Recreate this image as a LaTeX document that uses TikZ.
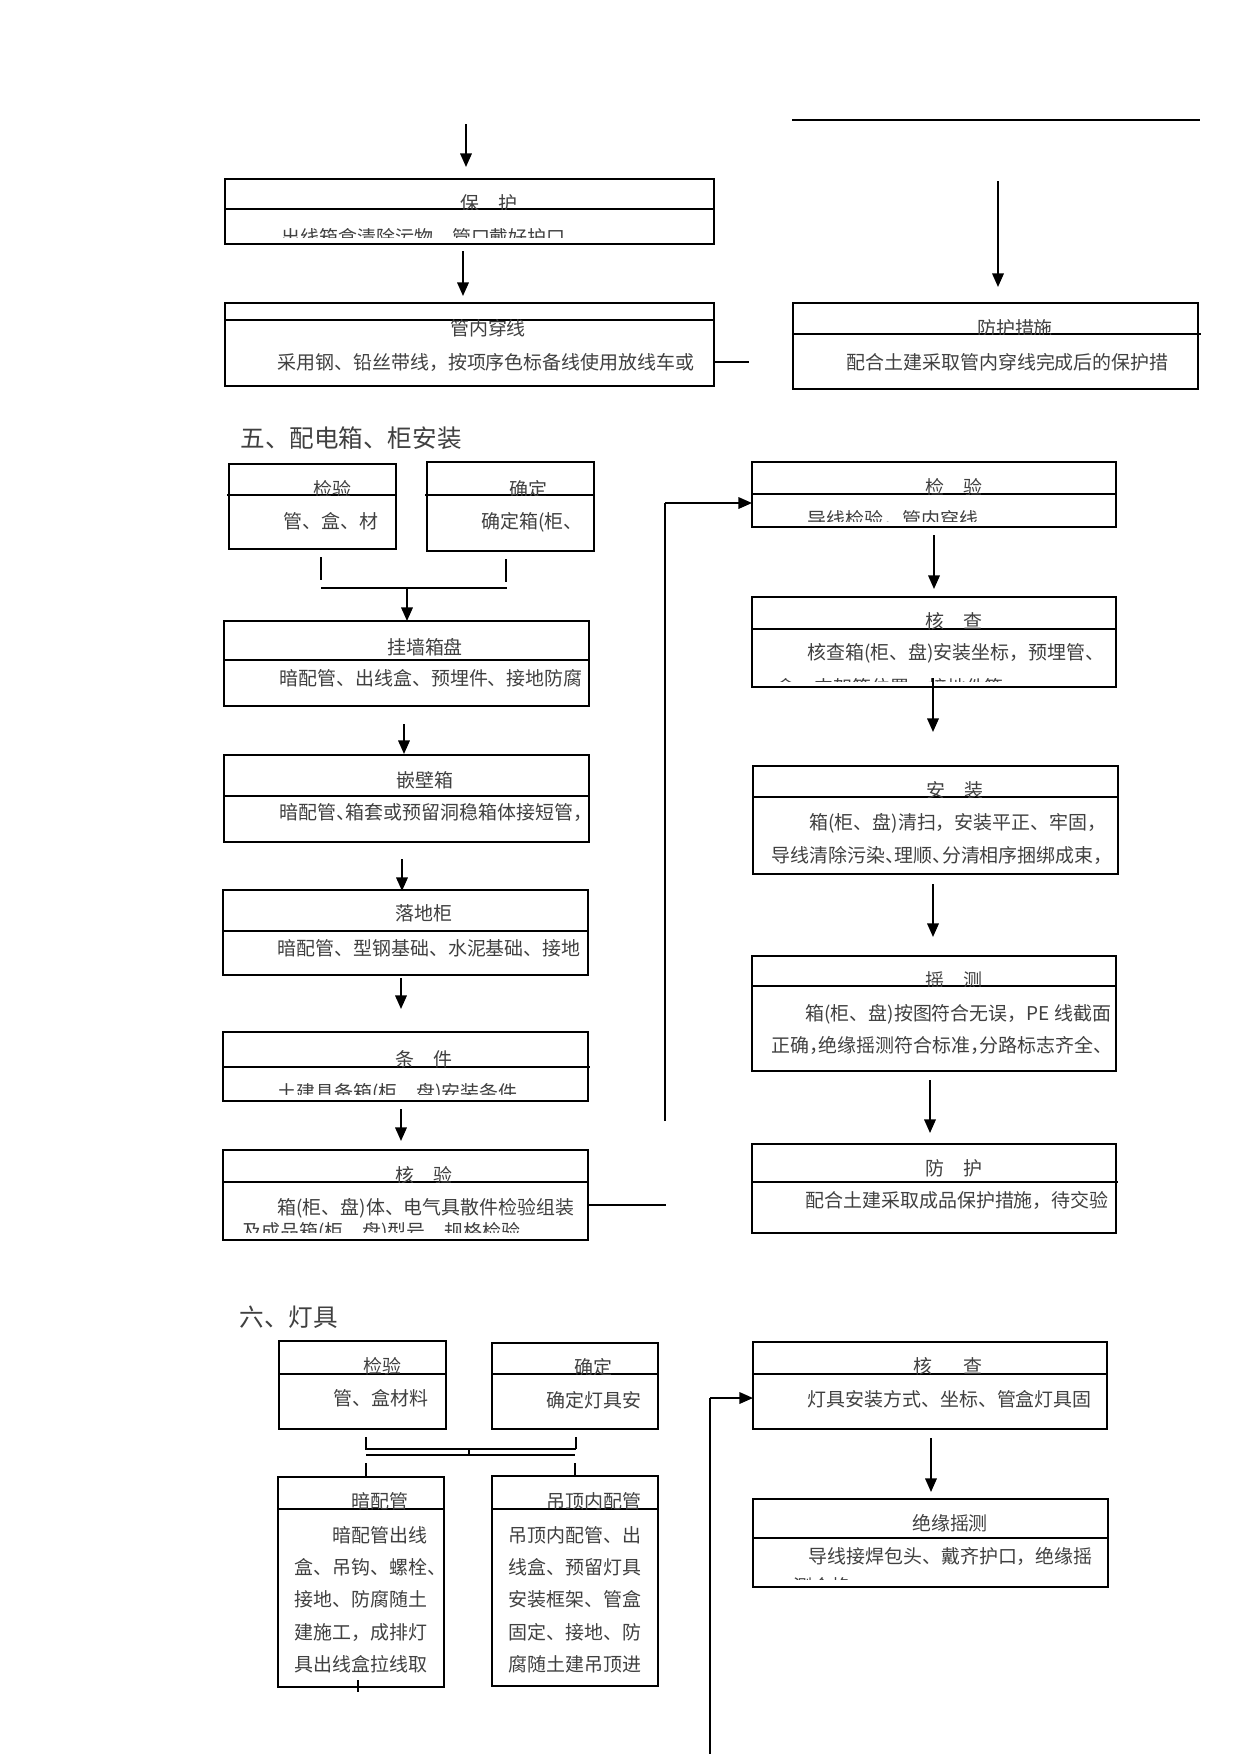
\documentclass[tikz,border=0pt]{standalone}
\usepackage{fontspec}
\newfontfamily\cjk{Noto Sans CJK SC}
\newfontfamily\cjkh{Noto Sans CJK SC}[RawFeature=+halt]
\usetikzlibrary{arrows.meta,fit}
\tikzset{
 box/.style={draw, line width=1pt, inner sep=0pt, outer sep=0pt},
 dv/.style={line width=0.6pt},
 dvt/.style={line width=1.3pt},
 arr/.style={line width=0.9pt, -{Triangle[width=5.5pt,length=6.5pt]}},
 ln/.style={line width=0.7pt},
 lnt/.style={line width=1.4pt},
 tt/.style={font=\cjk\fontsize{9.1}{11}\selectfont, text=black!75, inner sep=0pt, text height=7.9pt, text depth=1.1pt},
 tl/.style={tt, anchor=west},
 tlh/.style={tl, font=\cjkh\fontsize{9.1}{11}\selectfont},
 sec/.style={font=\cjk\fontsize{11.8}{14}\selectfont, text=black!75, inner sep=0pt, anchor=west},
}
\begin{document}
\begin{tikzpicture}[x=0.48pt,y=-0.48pt]
\useasboundingbox[fill=white] (0,0) rectangle (1241,1754);

% ===== top block =====
\coordinate (a1s) at (466,124); \coordinate (a1e) at (466,167);
\draw[arr] (a1s) -- (a1e);
\node[box, fit={(225,179)(714,244)}] (bA) {};
\draw[lnt] (bA.north west) -- (bA.north east);
\draw[dv] (225,209) -- (714,209);
\begin{scope}\clip (225,179) rectangle (714,209);
\node[tt] (tA) at (489,203) {保\quad 护};\end{scope}
\begin{scope}\clip (225,209) rectangle (714,237);
\node[tl] (sA) at (281,237) {出线箱盒清除污物，管口戴好护口};\end{scope}

\coordinate (a2s) at (463,251); \coordinate (a2e) at (463,296);
\draw[arr] (a2s) -- (a2e);
\node[box, fit={(225,303)(714,386)}] (bB) {};
\draw[dv] (225,320) -- (714,320);
\node[tt] (tB) at (488,328) {管内穿线};
\node[tl] (sB) at (277,362) {采用钢、铅丝带线，按项序色标备线使用放线车或};
\coordinate (s1) at (749,362);
\draw[lnt] (bB.east |- s1) -- (s1);

\coordinate (h1) at (792,120); \coordinate (h2) at (1200,120);
\draw[ln] (h1) -- (h2);
\coordinate (a3s) at (998,181); \coordinate (a3e) at (998,287);
\draw[arr] (a3s) -- (a3e);
\node[box, fit={(793,303)(1198,389)}] (bC) {};
\draw[lnt] (bC.south west) -- (bC.south east);
\draw[dv] (793,334) -- (1201,334);
\begin{scope}\clip (793,303) rectangle (1198,334);
\node[tt] (tC) at (1015,328) {防护措施};\end{scope}
\node[tl] (sC) at (846,362) {配合土建采取管内穿线完成后的保护措};

% ===== section 5 =====
\node[sec] (sec5) at (240,438) {五、配电箱、柜安装};

\node[box, fit={(229,464)(396,549)}] (bD) {};
\draw[dv] (227,495) -- (396,495);
\begin{scope}\clip (229,464) rectangle (396,495);
\node[tt] (tD) at (332,489) {检验};\end{scope}
\node[tl] (sD) at (283,521) {管、盒、材};

\node[box, fit={(427,462)(594,551)}] (bE) {};
\draw[dv] (425,495) -- (594,495);
\begin{scope}\clip (427,462) rectangle (594,495);
\node[tt] (tE) at (528,489) {确定};\end{scope}
\node[tl] (sE) at (481,521) {确定箱(柜、};

\coordinate (j1a) at (321,557); \coordinate (j1b) at (321,580);
\coordinate (j2a) at (506,559); \coordinate (j2b) at (506,582);
\coordinate (j3a) at (321,588); \coordinate (j3b) at (507,588);
\coordinate (j4) at (407,588);
\draw[ln] (j1a) -- (j1b);
\draw[lnt] (j2a) -- (j2b);
\draw[ln] (j3a) -- (j3b);

\node[box, fit={(224,621)(589,706)}] (bF) {};
\draw[arr] (j4) -- (j4 |- bF.north);
\draw[dv] (224,660) -- (589,660);
\node[tt] (tF) at (425,647) {挂墙箱盘};
\node[tl] (sF) at (279,678) {暗配管、出线盒、预埋件、接地防腐};

\coordinate (a5s) at (404,724); \coordinate (a5e) at (404,754);
\draw[arr] (a5s) -- (a5e);
\node[box, fit={(224,755)(589,842)}] (bG) {};
\draw[dvt] (224,796) -- (589,796);
\node[tt] (tG) at (425,780) {嵌壁箱};
\node[tlh] (sG) at (279,812) {暗配管、箱套或预留洞稳箱体接短管，};

\coordinate (a6s) at (402,859); \coordinate (a6e) at (402,891);
\draw[arr] (a6s) -- (a6e);
\node[box, fit={(223,890)(588,975)}] (bH) {};
\draw[dvt] (223,931) -- (588,931);
\node[tt] (tH) at (424,913) {落地柜};
\node[tl] (sH) at (277,948) {暗配管、型钢基础、水泥基础、接地};

\coordinate (a7s) at (401,978); \coordinate (a7e) at (401,1009);
\draw[arr] (a7s) -- (a7e);
\node[box, fit={(223,1032)(588,1101)}] (bI) {};
\draw[dv] (223,1067) -- (590,1067);
\begin{scope}\clip (223,1032) rectangle (588,1067);
\node[tt] (tI) at (424,1059) {条\quad 件};\end{scope}
\begin{scope}\clip (223,1067) rectangle (588,1094);
\node[tl] (sI) at (277,1092) {土建具备箱(柜、盘)安装条件};\end{scope}

\coordinate (a8s) at (401,1109); \coordinate (a8e) at (401,1141);
\draw[arr] (a8s) -- (a8e);
\node[box, fit={(223,1150)(588,1240)}] (bJ) {};
\draw[dv] (223,1182) -- (588,1182);
\begin{scope}\clip (223,1150) rectangle (588,1182);
\node[tt] (tJ) at (424,1175) {核\quad 验};\end{scope}
\node[tl] (sJ) at (277,1207) {箱(柜、盘)体、电气具散件检验组装};
\begin{scope}\clip (223,1182) rectangle (588,1232);
\node[tl] (sJ2) at (242,1231) {及成品箱(柜、盘)型号、规格检验};\end{scope}

\coordinate (r1) at (666,1205);
\draw[ln] (bJ.east |- r1) -- (r1);
\coordinate (r2) at (665,1121); \coordinate (r3) at (665,503);
\draw[ln] (r2) -- (r3);

\node[box, fit={(752,462)(1116,527)}] (bK) {};
\draw[arr] (r3) -- (r3 -| bK.west);
\draw[dv] (752,494) -- (1116,494);
\begin{scope}\clip (752,462) rectangle (1116,494);
\node[tt] (tK) at (954,487) {检\quad 验};\end{scope}
\begin{scope}\clip (752,494) rectangle (1116,521);
\node[tl] (sK) at (807,519) {导线检验，管内穿线};\end{scope}

\coordinate (a9s) at (934,535); \coordinate (a9e) at (934,589);
\draw[arr] (a9s) -- (a9e);
\node[box, fit={(752,597)(1116,687)}] (bL) {};
\draw[dvt] (752,629) -- (1116,629);
\begin{scope}\clip (752,597) rectangle (1116,629);
\node[tt] (tL) at (954,621) {核\quad 查};\end{scope}
\node[tl] (sL) at (807,652) {核查箱(柜、盘)安装坐标，预埋管、};
\begin{scope}\clip (752,629) rectangle (1116,681);
\node[tl] (sL2) at (776,687) {盒、支架等位置，接地件等};\end{scope}

\coordinate (a10s) at (933,678); \coordinate (a10e) at (933,732);
\draw[arr] (a10s) -- (a10e);
\node[box, fit={(753,766)(1118,874)}] (bM) {};
\draw[dv] (753,797) -- (1118,797);
\begin{scope}\clip (753,766) rectangle (1118,797);
\node[tt] (tM) at (955,790) {安\quad 装};\end{scope}
\node[tl] (sM) at (809,822) {箱(柜、盘)清扫，安装平正、牢固，};
\node[tlh] (sM2) at (771,855) {导线清除污染、理顺、分清相序捆绑成束，};

\coordinate (a11s) at (933,884); \coordinate (a11e) at (933,937);
\draw[arr] (a11s) -- (a11e);
\node[box, fit={(752,956)(1116,1071)}] (bN) {};
\draw[dv] (752,986) -- (1116,986);
\begin{scope}\clip (752,956) rectangle (1116,986);
\node[tt] (tN) at (954,980) {摇\quad 测};\end{scope}
\node[tl] (sN) at (805,1013) {箱(柜、盘)按图符合无误，PE 线截面};
\node[tlh] (sN2) at (771,1045) {正确，绝缘摇测符合标准，分路标志齐全、};

\coordinate (a12s) at (930,1080); \coordinate (a12e) at (930,1133);
\draw[arr] (a12s) -- (a12e);
\node[box, fit={(752,1144)(1116,1233)}] (bO) {};
\draw[dvt] (752,1182) -- (1118,1182);
\node[tt] (tO) at (954,1168) {防\quad 护};
\node[tl] (sO) at (805,1200) {配合土建采取成品保护措施，待交验};

% ===== section 6 =====
\node[sec] (sec6) at (239,1317) {六、灯具};

\node[box, fit={(279,1341)(446,1429)}] (bP) {};
\draw[dv] (279,1374) -- (446,1374);
\begin{scope}\clip (279,1341) rectangle (446,1374);
\node[tt] (tP) at (382,1366) {检验};\end{scope}
\node[tl] (sP) at (333,1398) {管、盒材料};

\node[box, fit={(492,1343)(658,1429)}] (bQ) {};
\draw[dvt] (492,1374) -- (658,1374);
\begin{scope}\clip (492,1343) rectangle (658,1374);
\node[tt] (tQ) at (593,1367) {确定};\end{scope}
\node[tl] (sQ) at (546,1400) {确定灯具安};

\coordinate (k1a) at (366,1437); \coordinate (k1b) at (366,1449);
\coordinate (k2a) at (576,1437); \coordinate (k2b) at (576,1449);
\coordinate (k3a) at (469,1449); \coordinate (k3b) at (469,1455);
\coordinate (k4a) at (366,1455); \coordinate (k4b) at (575,1455);
\coordinate (k5a) at (366,1463); \coordinate (k5b) at (366,1477);
\coordinate (k6a) at (575,1463); \coordinate (k6b) at (575,1477);
\draw[ln] (k1a) -- (k1b) -- (k2b);
\draw[lnt] (k2a) -- (k2b);
\draw[ln] (k3a) -- (k3b);
\draw[lnt] (k4a) -- (k4b);
\draw[ln] (k5a) -- (k5b);
\draw[lnt] (k6a) -- (k6b);

\node[box, fit={(278,1477)(444,1687)}] (bR) {};
\draw[dv] (278,1509) -- (444,1509);
\draw[lnt] (278,1509) -- (290,1509);
\begin{scope}\clip (278,1477) rectangle (444,1509);
\node[tt] (tR) at (380,1501) {暗配管};\end{scope}
\node[tl] (sR1) at (332,1535) {暗配管出线};
\node[tl] (sR2) at (294,1567) {盒、吊钩、螺栓、};
\node[tl] (sR3) at (294,1599) {接地、防腐随土};
\node[tl] (sR4) at (294,1632) {建施工，成排灯};
\node[tl] (sR5) at (294,1664) {具出线盒拉线取};
\coordinate (k7a) at (358,1680); \coordinate (k7b) at (358,1692);
\draw[lnt] (k7a) -- (k7b);

\node[box, fit={(492,1476)(658,1686)}] (bS) {};
\draw[dvt] (493,1509) -- (658,1509);
\begin{scope}\clip (492,1476) rectangle (658,1509);
\node[tt] (tS) at (594,1501) {吊顶内配管};\end{scope}
\node[tl] (sS1) at (508,1535) {吊顶内配管、出};
\node[tl] (sS2) at (508,1567) {线盒、预留灯具};
\node[tl] (sS3) at (508,1599) {安装框架、管盒};
\node[tl] (sS4) at (508,1632) {固定、接地、防};
\node[tl] (sS5) at (508,1664) {腐随土建吊顶进};

\node[box, fit={(753,1342)(1107,1429)}] (bT) {};
\draw[dv] (753,1374) -- (1107,1374);
\begin{scope}\clip (753,1342) rectangle (1107,1374);
\node[tt] (tT) at (948,1366) {核\hspace{14.5pt}查};\end{scope}
\node[tl] (sT) at (807,1399) {灯具安装方式、坐标、管盒灯具固};
\coordinate (v1) at (710,1398); \coordinate (v2) at (710,1754);
\draw[arr] (v1) -- (v1 -| bT.west);
\draw[ln] (v1) -- (v2);

\coordinate (a13s) at (931,1438); \coordinate (a13e) at (931,1492);
\draw[arr] (a13s) -- (a13e);
\node[box, fit={(753,1499)(1108,1587)}] (bU) {};
\draw[dvt] (753,1538) -- (1108,1538);
\node[tt] (tU) at (950,1523) {绝缘摇测};
\node[tl] (sU) at (808,1556) {导线接焊包头、戴齐护口，绝缘摇};
\begin{scope}\clip (753,1538) rectangle (1108,1579);
\node[tl] (sU2) at (793,1586) {测合格};\end{scope}

\end{tikzpicture}
\end{document}
